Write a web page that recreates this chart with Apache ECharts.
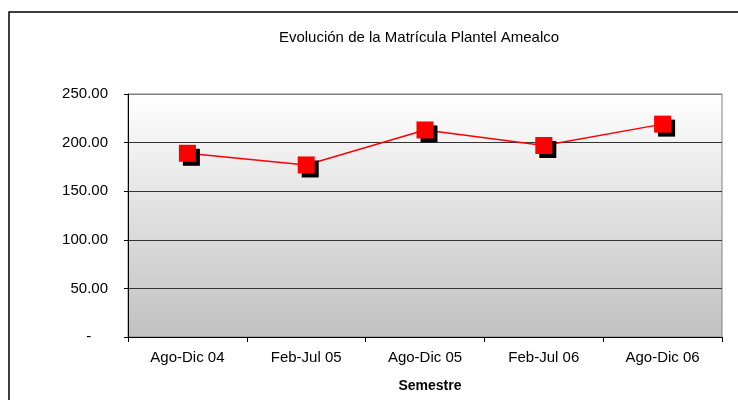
<!DOCTYPE html>
<html>
<head>
<meta charset="utf-8">
<script src="https://cdn.jsdelivr.net/npm/echarts@6/dist/echarts.min.js"></script>
<style>
html,body{margin:0;padding:0;background:#fff;}
#c{width:738px;height:400px;}
</style>
</head>
<body>
<div id="c"></div>
<script>
var categories = ['Ago-Dic 04', 'Feb-Jul 05', 'Ago-Dic 05', 'Feb-Jul 06', 'Ago-Dic 06'];
var matricula = [189, 177, 213, 197, 219];
var yTicks = [0, 50, 100, 150, 200, 250];
var titleText = 'Evolución de la Matrícula Plantel Amealco';
var xName = 'Semestre';

var FONT = '"Liberation Sans", Arial, sans-serif';
var chart = echarts.init(document.getElementById('c'), null, {renderer: 'canvas'});
chart.setOption({
  animation: false,
  backgroundColor: '#ffffff',
  title: {
    text: titleText,
    left: 414,
    textAlign: 'center',
    top: 25,
    textStyle: {fontFamily: FONT, fontSize: 15, fontWeight: 'normal', color: '#000'}
  },
  graphic: [{
    type: 'rect',
    shape: {x: 9, y: 12, width: 800, height: 500},
    style: {fill: 'none', stroke: '#000', lineWidth: 1.5},
    silent: true,
    z: 100
  }],
  grid: {
    left: 128, right: 16, top: 94, bottom: 63,
    show: true,
    borderColor: '#808080',
    borderWidth: 1,
    backgroundColor: new echarts.graphic.LinearGradient(0, 0, 0, 1, [
      {offset: 0, color: '#ffffff'},
      {offset: 1, color: '#c0c0c0'}
    ])
  },
  xAxis: {
    type: 'category',
    data: categories,
    boundaryGap: true,
    name: xName,
    nameLocation: 'middle',
    nameGap: 42,
    nameTextStyle: {fontFamily: FONT, fontSize: 14, fontWeight: 'bold', color: '#000', padding: [0, 0, 0, 10]},
    axisLine: {lineStyle: {color: '#000', width: 1}},
    axisTick: {show: true, length: 5, lineStyle: {color: '#000'}},
    axisLabel: {fontFamily: FONT, fontSize: 15, color: '#000', margin: 13},
    splitLine: {show: false}
  },
  yAxis: {
    type: 'value',
    min: yTicks[0],
    max: yTicks[yTicks.length - 1],
    interval: yTicks[1] - yTicks[0],
    axisLine: {show: true, lineStyle: {color: '#000', width: 1}},
    axisTick: {show: true, length: 4, lineStyle: {color: '#000'}},
    axisLabel: {
      fontFamily: FONT, fontSize: 15, color: '#000', margin: 20,
      formatter: function (v) { return v === 0 ? '-    ' : v.toFixed(2); }
    },
    splitLine: {show: true, lineStyle: {color: ['#000', '#333', '#333', '#333', '#333', '#808080'], width: 1}}
  },
  series: [{
    type: 'line',
    data: matricula,
    symbol: 'rect',
    symbolSize: 17,
    lineStyle: {color: '#ff0000', width: 1.5},
    itemStyle: {
      color: '#ff0000',
      shadowColor: '#000',
      shadowBlur: 0,
      shadowOffsetX: 4,
      shadowOffsetY: 4
    },
    emphasis: {disabled: true}
  }]
});
</script>
</body>
</html>
